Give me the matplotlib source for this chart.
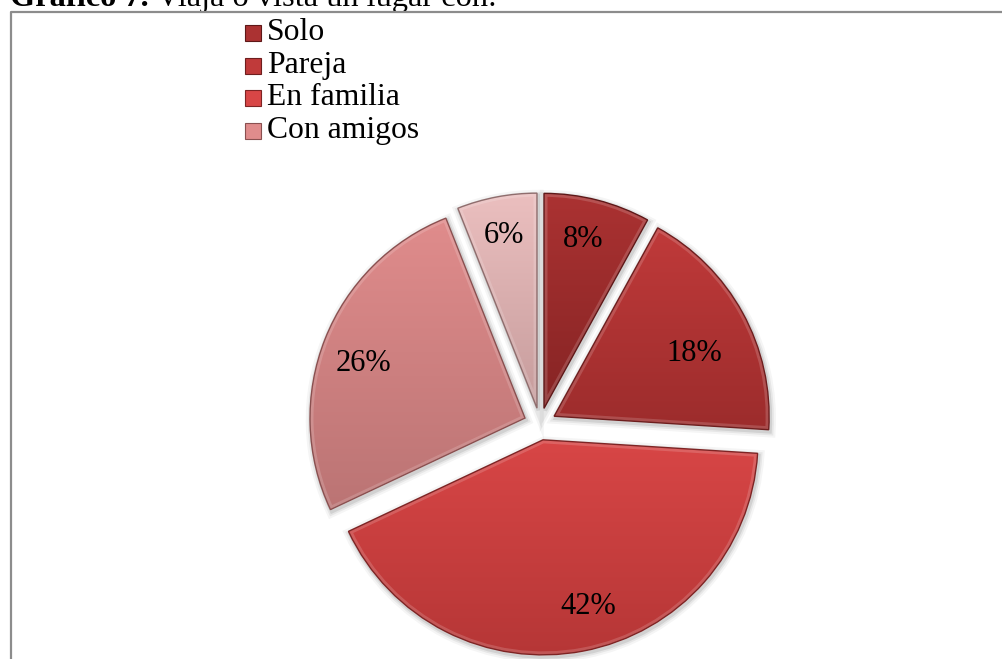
import numpy as np
import matplotlib.pyplot as plt
from matplotlib.patches import Rectangle, Wedge
from matplotlib.lines import Line2D
from matplotlib.colors import LinearSegmentedColormap

# datos del gráfico
categorias = ['Solo', 'Pareja', 'En familia', 'Con amigos', '']
porcentajes = [8, 18, 42, 26, 6]
color_claro = ['#ab3232', '#c03a3a', '#d84646', '#e08c8c', '#ebbfbf']
color_oscuro = ['#862424', '#9c2c2c', '#b53636', '#bb7474', '#c69c9c']
color_borde = ['#5e1818', '#6e1e1e', '#7e2424', '#8a5050', '#8f6d6d']

# ubicación de las etiquetas (fracción del radio, giro en grados)
dist_etiqueta = [0.82, 0.72, 0.79, 0.80, 0.83]
giro_etiqueta = [1.7, -3.8, 4.6, 2.0, 0.0]

plt.rcParams['font.family'] = ['Liberation Serif', 'DejaVu Serif']

W, H = 1002, 659
fig = plt.figure(figsize=(W / 100, H / 100), dpi=100)
ax = fig.add_axes([0, 0, 1, 1])

R = 215          # radio en px
cx, cy = 540, 424  # centro en px desde arriba a la izquierda

wedges, texts, autotexts = ax.pie(
    porcentajes, startangle=90, counterclock=False,
    explode=[0.075] * len(porcentajes), radius=1,
    autopct='%.0f%%', pctdistance=0.8,
    textprops=dict(fontsize=22, color='black'),
    wedgeprops=dict(linewidth=1.0))

# relleno en degradado vertical recortado a cada porción
for i, w in enumerate(wedges):
    w.set_facecolor('none')
    w.set_edgecolor(color_borde[i])
    w.set_zorder(3)
    verts = w.get_path().vertices
    x0, x1 = verts[:, 0].min(), verts[:, 0].max()
    y0, y1 = verts[:, 1].min(), verts[:, 1].max()
    cmap = LinearSegmentedColormap.from_list('g%d' % i, [color_oscuro[i], color_claro[i]])
    grad = np.linspace(0, 1, 256).reshape(-1, 1)
    im = ax.imshow(grad, cmap=cmap, extent=[x0, x1, y0, y1], origin='lower',
                   aspect='auto', zorder=2, interpolation='bilinear')
    im.set_clip_path(w)
    # borde biselado claro por dentro
    bisel = Wedge(w.center, w.r, w.theta1, w.theta2, facecolor='none',
                  edgecolor='white', linewidth=5, alpha=0.16, zorder=2.5)
    ax.add_patch(bisel)
    bisel.set_clip_path(w)
    # sombra suave
    for k, a in [(8, 0.04), (5, 0.06), (2.5, 0.09)]:
        s = Wedge((w.center[0] + 0.006, w.center[1] - 0.01), w.r, w.theta1, w.theta2,
                  facecolor='none', edgecolor='black', linewidth=k, alpha=a, zorder=1)
        ax.add_patch(s)

    # etiqueta de porcentaje
    ang = np.deg2rad((w.theta1 + w.theta2) / 2 + giro_etiqueta[i])
    autotexts[i].set_position((w.center[0] + dist_etiqueta[i] * np.cos(ang),
                               w.center[1] + dist_etiqueta[i] * np.sin(ang) - 3 / R))
    autotexts[i].set_zorder(4)

ax.set_xlim(-cx / R, (W - cx) / R)
ax.set_ylim(-(H - cy) / R, cy / R)
ax.set_aspect('auto')
ax.axis('off')

# leyenda
lado = 16
for i, nombre in enumerate(categorias[:4]):
    base = 40 + i * 32.7
    fig.add_artist(Rectangle((245 / W, 1 - (base + 1) / H), lado / W, lado / H,
                             transform=fig.transFigure, facecolor=color_claro[i],
                             edgecolor=color_borde[i], linewidth=0.8))
    fig.text(267 / W, 1 - base / H, nombre, fontsize=22.8, va='baseline', ha='left')

# título cortado por arriba
t1 = fig.text(10 / W, 1 - 6 / H, 'Gráfico 7.', fontsize=23.3, fontweight='bold',
              va='baseline', ha='left')
ax.annotate(' Viaja o vista un lugar con:', xy=(1, 0), xycoords=t1,
            fontsize=23.3, va='bottom', ha='left', annotation_clip=False)

# marco
fig.add_artist(Line2D([10.5 / W, 10.5 / W, 1.0], [0, 1 - 12 / H, 1 - 12 / H],
                      transform=fig.transFigure, color='#8c8c8c', linewidth=1.6))

fig.savefig('out.png', dpi=100)
